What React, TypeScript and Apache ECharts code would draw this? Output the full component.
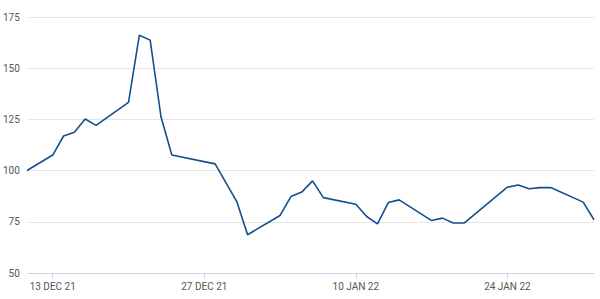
import React, { useEffect, useRef } from "react";
import * as echarts from "echarts";

const dates = [
  "2021-12-10", "2021-12-13", "2021-12-14", "2021-12-15", "2021-12-16", "2021-12-17",
  "2021-12-20", "2021-12-21", "2021-12-22", "2021-12-23", "2021-12-24",
  "2021-12-28", "2021-12-30", "2021-12-31",
  "2022-01-03", "2022-01-04", "2022-01-05", "2022-01-06", "2022-01-07",
  "2022-01-10", "2022-01-11", "2022-01-12", "2022-01-13", "2022-01-14",
  "2022-01-17", "2022-01-18", "2022-01-19", "2022-01-20",
  "2022-01-24", "2022-01-25", "2022-01-26", "2022-01-27", "2022-01-28",
  "2022-01-31", "2022-02-01",
];
const values = [
  98.1, 107.6, 116.9, 118.7, 125.2, 122.1,
  133.3, 166.1, 163.7, 126.3, 107.6,
  103.3, 84.9, 68.7,
  78.1, 87.3, 89.5, 95.0, 86.8,
  83.6, 77.6, 74.0, 84.4, 85.7,
  75.6, 76.8, 74.4, 74.4,
  91.9, 93.0, 91.1, 91.7, 91.7,
  84.6, 76.0,
];
const tickDates = ["2021-12-13", "2021-12-27", "2022-01-10", "2022-01-24"];
const xMin = "2021-12-10T16:50:00";
const xMax = "2022-02-01T00:00:00";
const yTicks = { min: 50, max: 175, interval: 25 };
const MONTHS = ["JAN", "FEB", "MAR", "APR", "MAY", "JUN", "JUL", "AUG", "SEP", "OCT", "NOV", "DEC"];

const ts = (s: string) => new Date(s.length === 10 ? s + "T00:00:00" : s).getTime();

export default function App() {
  const ref = useRef<HTMLDivElement>(null);
  useEffect(() => {
    document.body.style.margin = "0";
    if (!ref.current) return;
    const chart = echarts.init(ref.current, undefined, { renderer: "svg" });
    const tickTs = tickDates.map(ts);
    chart.setOption({
      animation: false,
      grid: { left: 25, right: 6, top: 17, bottom: 26 },
      xAxis: {
        type: "value",
        min: ts(xMin),
        max: ts(xMax),
        axisLine: { show: true, lineStyle: { color: "#ccd6eb", width: 1 } },
        axisTick: { show: true, customValues: tickTs, length: 6, lineStyle: { color: "#ccd6eb" } },
        axisLabel: {
          customValues: tickTs,
          color: "#555",
          fontSize: 10,
          fontFamily: "Roboto",
          margin: 8,
          showMinLabel: true,
          showMaxLabel: true,
          formatter: (v: number) => {
            const d = new Date(v);
            const dd = d.getDate();
            const yy = String(d.getFullYear()).slice(2);
            return `${dd} ${MONTHS[d.getMonth()]} ${yy}`;
          },
        },
        splitLine: { show: false },
      },
      yAxis: {
        type: "value",
        min: yTicks.min,
        max: yTicks.max,
        interval: yTicks.interval,
        axisLine: { show: false },
        axisTick: { show: false },
        axisLabel: { color: "#555", fontSize: 10, fontFamily: "Roboto", margin: 8 },
        splitLine: { lineStyle: { color: "#e6e6e6", width: 1 } },
      },
      series: [
        {
          type: "line",
          data: dates.map((d, i) => [ts(d), values[i]]),
          showSymbol: false,
          symbol: "none",
          clip: true,
          lineStyle: { color: "#134f8c", width: 1.6 },
        },
      ],
    });
    return () => chart.dispose();
  }, []);
  return <div ref={ref} style={{ width: 600, height: 299 }} />;
}
